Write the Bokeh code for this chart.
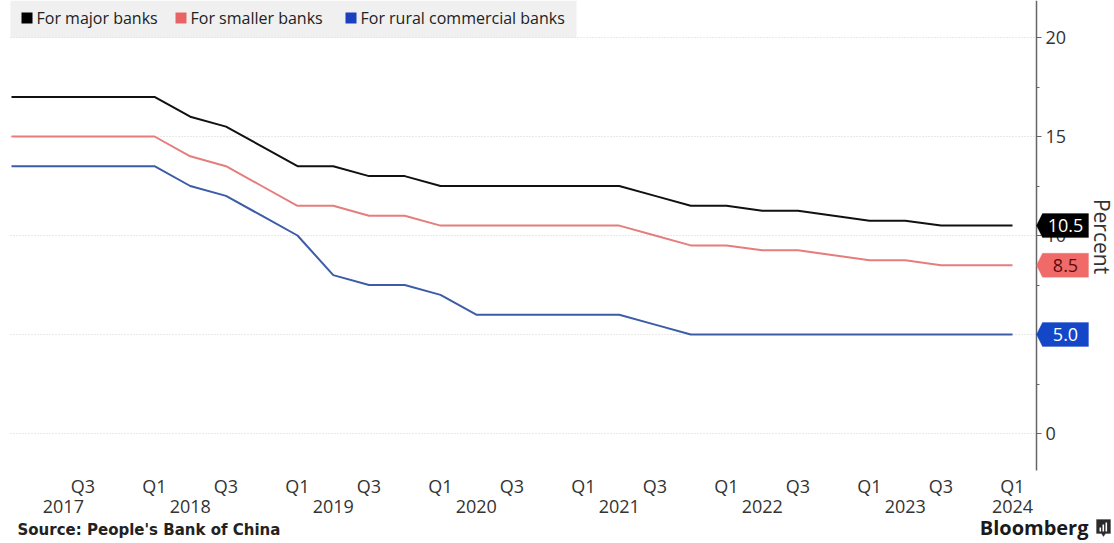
import math
from bokeh.plotting import figure
from bokeh.models import (Range1d, LinearAxis, FixedTicker, Label, PolyAnnotation, BoxAnnotation)
from bokeh.embed import file_html
from bokeh.resources import INLINE

# ---------------- data ----------------
quarters = ["Q1 2017", "Q2 2017", "Q3 2017", "Q4 2017",
            "Q1 2018", "Q2 2018", "Q3 2018", "Q4 2018",
            "Q1 2019", "Q2 2019", "Q3 2019", "Q4 2019",
            "Q1 2020", "Q2 2020", "Q3 2020", "Q4 2020",
            "Q1 2021", "Q2 2021", "Q3 2021", "Q4 2021",
            "Q1 2022", "Q2 2022", "Q3 2022", "Q4 2022",
            "Q1 2023", "Q2 2023", "Q3 2023", "Q4 2023",
            "Q1 2024"]
major_banks = [17, 17, 17, 17, 17, 16, 15.5, 14.5, 13.5, 13.5, 13, 13,
               12.5, 12.5, 12.5, 12.5, 12.5, 12.5, 12, 11.5, 11.5, 11.25, 11.25,
               11, 10.75, 10.75, 10.5, 10.5, 10.5]
smaller_banks = [15, 15, 15, 15, 15, 14, 13.5, 12.5, 11.5, 11.5, 11, 11,
                 10.5, 10.5, 10.5, 10.5, 10.5, 10.5, 10, 9.5, 9.5, 9.25, 9.25,
                 9, 8.75, 8.75, 8.5, 8.5, 8.5]
rural_banks = [13.5, 13.5, 13.5, 13.5, 13.5, 12.5, 12, 11, 10, 8, 7.5, 7.5,
               7, 6, 6, 6, 6, 6, 5.5, 5, 5, 5, 5,
               5, 5, 5, 5, 5, 5]
series_names = ["For major banks", "For smaller banks", "For rural commercial banks"]

q_tick_pos = [2, 4, 6, 8, 10, 12, 14, 16, 18, 20, 22, 24, 26, 28]
q_tick_labels = ["Q3", "Q1", "Q3", "Q1", "Q3", "Q1", "Q3", "Q1", "Q3", "Q1", "Q3", "Q1", "Q3", "Q1"]
year_pos = [1.45, 5, 9, 13, 17, 21, 25, 28]
year_labels = ["2017", "2018", "2019", "2020", "2021", "2022", "2023", "2024"]
y_ticks = [0, 5, 10, 15, 20]
y_minor = [2.5, 7.5, 12.5, 17.5]

x_idx = list(range(len(quarters)))

# ---------------- styling / layout ----------------
LINE_COLORS = ["#111111", "#e67d7d", "#3d5ca8"]
LEG_COLORS = ["#000000", "#e86464", "#1a3fbf"]
TAG_FILL = ["#000000", "#f06a6a", "#1446c8"]
TAG_TEXT = ["#ffffff", "#5a0c0c", "#ffffff"]
FONT = "Open Sans"

W, H = 1114, 543
PXX, PXY = 35.75, 19.8          # pixels per x unit / y unit
X0 = -11 / PXX                  # canvas px 0
X1 = X0 + W / PXX
Y1 = 433 / PXY                  # canvas px 0 (top)
Y0 = Y1 - H / PXY


def px2x(px):
    return X0 + px / PXX


def px2y(py):
    return Y1 - py / PXY


AXIS_X = px2x(1036)             # where the value axis sits
PLOT_BOTTOM = px2y(470)         # bottom of the plotting area
PLOT_LEFT = px2x(10)

p = figure(width=W, height=H, output_backend="svg", toolbar_location=None,
           x_range=Range1d(X0, X1), y_range=Range1d(Y0, Y1),
           x_axis_type=None, y_axis_type=None, min_border=0,
           outline_line_color=None, background_fill_color="white", border_fill_color="white")

# right value axis
yaxis = LinearAxis(ticker=FixedTicker(ticks=y_ticks, minor_ticks=y_minor),
                   fixed_location=AXIS_X, bounds=(PLOT_BOTTOM, Y1),
                   axis_line_color="#666666", axis_line_width=1.5,
                   major_tick_in=0, major_tick_out=5, minor_tick_in=0, minor_tick_out=3,
                   major_tick_line_color="#666666", minor_tick_line_color="#666666",
                   major_label_text_font=FONT, major_label_text_font_size="18px",
                   major_label_text_color="#333333", major_label_standoff=4)
p.add_layout(yaxis, "right")

# horizontal dotted grid lines at the value ticks, ending at the axis
p.segment(x0=[PLOT_LEFT] * len(y_ticks), y0=y_ticks, x1=[AXIS_X] * len(y_ticks), y1=y_ticks,
          line_color="#d3d3d3", line_dash="1 2", line_width=1)

# bottom axes: quarters and years
qaxis = LinearAxis(ticker=FixedTicker(ticks=q_tick_pos), fixed_location=PLOT_BOTTOM,
                   major_label_overrides={k: v for k, v in zip(q_tick_pos, q_tick_labels)},
                   axis_line_color=None, major_tick_line_color=None, minor_tick_line_color=None,
                   major_tick_out=0, major_tick_in=0, minor_tick_out=0, minor_tick_in=0,
                   major_label_text_font=FONT, major_label_text_font_size="18px",
                   major_label_text_color="#333333", major_label_standoff=3)
p.add_layout(qaxis, "below")
yraxis = LinearAxis(ticker=FixedTicker(ticks=year_pos), fixed_location=PLOT_BOTTOM,
                    major_label_overrides={k: v for k, v in zip(year_pos, year_labels)},
                    axis_line_color=None, major_tick_line_color=None, minor_tick_line_color=None,
                    major_tick_out=0, major_tick_in=0, minor_tick_out=0, minor_tick_in=0,
                    major_label_text_font=FONT, major_label_text_font_size="18px",
                    major_label_text_color="#333333", major_label_standoff=29)
p.add_layout(yraxis, "below")

# legend band (drawn before the lines)
p.add_layout(BoxAnnotation(left=px2x(10), right=px2x(576), top=px2y(0), bottom=px2y(37),
                           fill_color="#f0f0f0", fill_alpha=1, line_color=None,
                           level="underlay"))
leg_square_px = [21, 175, 345]
for name, c, sx in zip(series_names, LEG_COLORS, leg_square_px):
    p.add_layout(BoxAnnotation(left=px2x(sx), right=px2x(sx + 11), top=px2y(12),
                               bottom=px2y(23), fill_color=c, fill_alpha=1, line_color=None))
    p.add_layout(Label(x=px2x(sx + 15), y=px2y(17.5), text=name, text_align="left",
                       text_baseline="middle", text_font=FONT, text_font_size="16px",
                       text_color="#222222"))

# lines
all_series = [major_banks, smaller_banks, rural_banks]
for vals, c in zip(all_series, LINE_COLORS):
    p.line(x_idx, vals, line_color=c, line_width=2)

# axis title
p.add_layout(Label(x=px2x(1101), y=px2y(236), text="Percent", angle=-math.pi / 2,
                   text_align="center", text_baseline="middle", text_font=FONT,
                   text_font_size="21px", text_color="#333333"))

# value tags on the right axis
tip = AXIS_X
box_l = px2x(1042)
box_r = px2x(1088)
hh = 12 / PXY
for vals, fc, tc in zip(all_series, TAG_FILL, TAG_TEXT):
    v = vals[-1]
    p.add_layout(PolyAnnotation(xs=[tip, box_l, box_r, box_r, box_l],
                                ys=[v, v + hh, v + hh, v - hh, v - hh],
                                fill_color=fc, fill_alpha=1, line_color=fc))
    p.add_layout(Label(x=(box_l + box_r) / 2, y=v, text=f"{v:.1f}",
                       text_align="center", text_baseline="middle",
                       text_color=tc, text_font=FONT, text_font_size="18px"))

# source & branding
p.add_layout(Label(x=px2x(17), y=px2y(529), text="Source: People's Bank of China",
                   text_align="left", text_baseline="middle", text_font="DejaVu Sans",
                   text_font_style="bold", text_font_size="15px", text_color="#222222"))
p.add_layout(Label(x=px2x(1088), y=px2y(527), text="Bloomberg",
                   text_align="right", text_baseline="middle", text_font=FONT,
                   text_font_style="bold", text_font_size="20px", text_color="#1a1a1a"))
# small logo mark
p.add_layout(PolyAnnotation(xs=[px2x(1096), px2x(1110), px2x(1110), px2x(1105), px2x(1103),
                                px2x(1101), px2x(1096)],
                            ys=[px2y(519), px2y(519), px2y(533), px2y(533), px2y(536),
                                px2y(533), px2y(533)],
                            fill_color="#2a2a2a", fill_alpha=1, line_color="#2a2a2a"))
for bl, bt in [(1099, 527), (1102, 524), (1105, 522)]:
    p.add_layout(BoxAnnotation(left=px2x(bl), right=px2x(bl + 1.6), top=px2y(bt),
                               bottom=px2y(531), fill_color="white", fill_alpha=1,
                               line_color=None))

open("out.html", "w").write(file_html(p, INLINE))
